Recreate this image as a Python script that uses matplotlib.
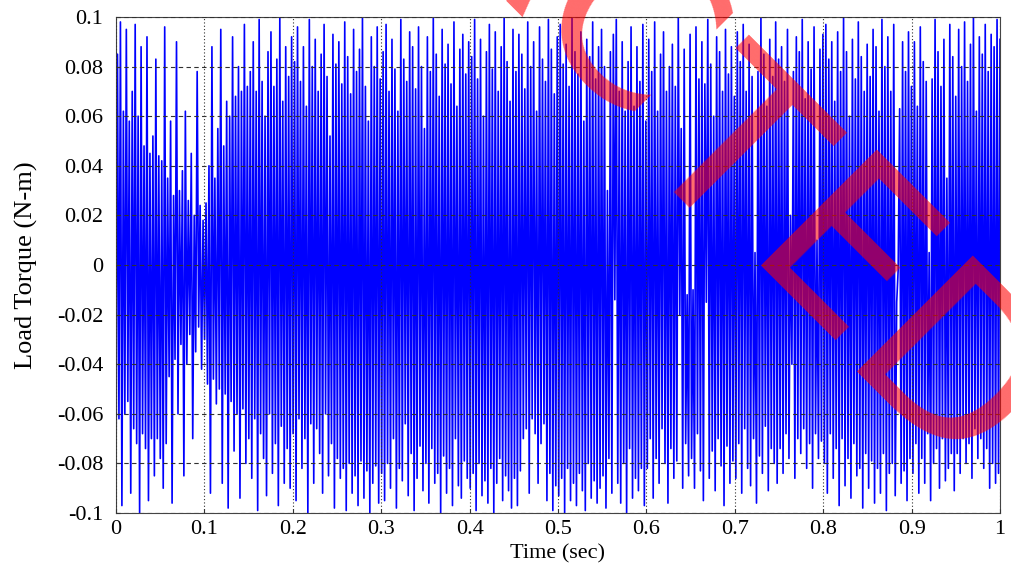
import matplotlib
matplotlib.use('Agg')
import matplotlib.pyplot as plt
import numpy as np

"""
Load torque signal, read off the picture as successive peaks and troughs
(values in 1e-3 N-m, troughs given as magnitudes below zero)
"""
peaks = [85, 98, 62, 95, 58, 70, 97, 60, 88, 48, 92, 45, 52, 83, 44,
         42, 96, 35, 58, 28, 90, 30, 38, 62, 26, 45, 20, 78, 24, 18,
         25, 40, 88, 35, 55, 95, 48, 66, 60, 92, 68, 80, 70, 97, 72,
         78, 90, 70, 99, 74, 60, 86, 94, 72, 83, 100, 66, 88, 76, 92,
         82, 96, 74, 88, 64, 99, 80, 91, 70, 85, 97, 76, 52, 93, 81,
         90, 73, 98, 84, 69, 95, 78, 87, 100, 72, 58, 92, 80, 96, 75,
         86, 97, 70, 91, 79, 62, 99, 83, 74, 94, 88, 71, 96, 80, 55,
         92, 78, 100, 85, 68, 95, 81, 89, 73, 98, 64, 87, 93, 77, 90,
         84, 99, 75, 91, 60, 86, 97, 79, 94, 70, 88, 100, 82, 66, 95,
         78, 93, 85, 71, 98, 80, 90, 62, 96, 83, 74, 99, 87, 69, 92,
         97, 81, 89, 72, 100, 86, 77, 94, 58, 91, 84, 98, 75, 88, 95,
         80, 30, 86, 93, 99, 70, 90, 62, 82, 96, 64, 88, 74, 97, 58,
         91, 78, 98, 62, 85, 94, 70, 80, 89, 72, 100, 55, 87, -12, 93,
         -10, 96, 75, 90, 73, 99, 81, 60, 92, 86, 70, 95, 77, 88, 68,
         94, 82, 97, 70, 89, 76, 5, 78, 100, 85, 64, 91, 76, 98, 83,
         88, 74, 95, 20, 78, 92, 86, 99, 67, 90, 79, 96, 10, 87, 93,
         97, 83, 90, 66, 94, 78, 100, 86, 60, 91, 75, 98, 84, 70, 89,
         76, 95, 88, 62, 99, 80, 92, 70, 97, -15, 63, 90, 78, 94, 72,
         90, 64, 96, 82, 74, 5, 75, 99, 86, 72, 91, 35, 97, 84, 68,
         95, 80, 98, 74, 89, 100, 62, 92, 85, 97, 78, 93, 88, 99, 91]
troughs = [88, 62, 97, 60, 55, 92, 66, 72, 100, 68, 74, 95, 70, 85, 70,
           78, 90, 72, 45, 96, 38, 60, 32, 85, 40, 28, 70, 35, 25, 42,
           30, 48, 92, 46, 56, 50, 88, 52, 98, 55, 75, 60, 94, 58, 80,
           70, 86, 62, 99, 68, 78, 93, 60, 84, 72, 97, 65, 88, 74, 90,
           68, 95, 62, 82, 70, 100, 64, 88, 66, 76, 92, 60, 85, 72, 98,
           78, 86, 82, 99, 80, 92, 85, 97, 79, 94, 83, 100, 88, 81, 96,
           84, 95, 80, 90, 70, 98, 82, 87, 64, 93, 76, 99, 86, 73, 91,
           80, 96, 74, 88, 84, 100, 77, 92, 82, 97, 70, 89, 94, 79, 86,
           90, 84, 99, 80, 93, 87, 96, 82, 100, 88, 78, 95, 85, 91, 98,
           86, 97, 83, 70, 66, 92, 62, 68, 88, 72, 64, 95, 84, 99, 89,
           93, 86, 100, 82, 95, 88, 97, 84, 91, 99, 80, 94, 87, 96, 90,
           85, 98, 78, 92, 14, 88, 96, 80, 100, 74, 94, 86, 91, 82, 97,
           82, 70, 94, 78, 88, 66, 80, 96, 74, 86, 79, 20, 90, 72, 85,
           78, 90, 68, 83, 95, 15, 86, 75, 91, 70, 81, 97, 73, 88, 79,
           86, 72, 92, 66, 82, 89, 70, 96, 77, 84, 65, 91, 74, 80, 88,
           74, 84, 68, 78, 40, 86, 70, 76, 66, 82, 72, 90, 68, 78, 71,
           80, 92, 68, 86, 74, 97, 70, 89, 78, 94, 72, 85, 82, 98, 76,
           90, 79, 96, 82, 92, 76, 99, 84, 80, 93, 2, 88, 83, 95, 78,
           84, 72, 92, 78, 88, 68, 95, 80, 74, 90, 70, 87, 82, 76, 91,
           76, 84, 70, 80, 72, 86, 66, 78, 70, 82, 74, 90, 80, 88, 84]

xticks = [0, 0.1, 0.2, 0.3, 0.4, 0.5, 0.6, 0.7, 0.8, 0.9, 1]
xticklabels = ['0', '0.1', '0.2', '0.3', '0.4', '0.5', '0.6', '0.7', '0.8', '0.9', '1']
yticks = [0.1, 0.08, 0.06, 0.04, 0.02, 0, -0.02, -0.04, -0.06, -0.08, -0.1]
yticklabels = ['0.1', '0.08', '0.06', '0.04', '0.02', '0', '-0.02', '-0.04', '-0.06', '-0.08', '-0.1']

# peaks and troughs one after the other
torque = np.empty(2 * len(peaks))
torque[0::2] = -np.array(troughs) / 1000.
torque[1::2] = np.array(peaks) / 1000.
time = np.linspace(0, 1, len(torque))

plt.rcParams['font.family'] = ['Liberation Serif', 'DejaVu Serif']
fs = 16

fig = plt.figure(figsize=(10.12, 5.69), dpi=100)
ax1 = fig.add_axes([116/1012, 56/569, 884/1012, 496/569])
ax1.plot(time, torque, color='#0000ff', linewidth=1.2)
ax1.set_xlim(0, 1)
ax1.set_ylim(-0.1, 0.1)
ax1.set_xticks(xticks)
ax1.set_xticklabels(xticklabels)
ax1.set_yticks(yticks)
ax1.set_yticklabels(yticklabels)
ax1.tick_params(axis='both', labelsize=fs, direction='in', length=3, color='#333333')
ax1.tick_params(axis='x', pad=5)
ax1.tick_params(axis='y', pad=9)
ax1.set_axisbelow(False)
ax1.yaxis.grid(True, color='#303030', linestyle=(0, (4, 3)), linewidth=0.8)
ax1.xaxis.grid(True, color='#303030', linestyle=(0, (1, 2)), linewidth=0.8)
for sp in ax1.spines.values():
    sp.set_color('#444444')
    sp.set_linewidth(0.8)
ax1.set_xlabel('Time (sec)', fontsize=fs, labelpad=4)
ax1.set_ylabel('Load Torque (N-m)', fontsize=19, labelpad=14)

# watermark, one letter at a time along a diagonal line
word = 'RETRACTED'
cx, cy = 635, 21          # pixel centre of the 'C'
stepx, stepy = 107, 117   # letter step in pixels
for k, ch in enumerate(word):
    px = cx + (k - 5) * stepx
    py = cy + (k - 5) * stepy
    fig.text(px / 1012, 1 - py / 569, ch, rotation=-45, fontsize=162, color='red',
             alpha=0.58, ha='center', va='center_baseline', rotation_mode='anchor',
             family='DejaVu Sans')

fig.savefig('out.png', dpi=100)
